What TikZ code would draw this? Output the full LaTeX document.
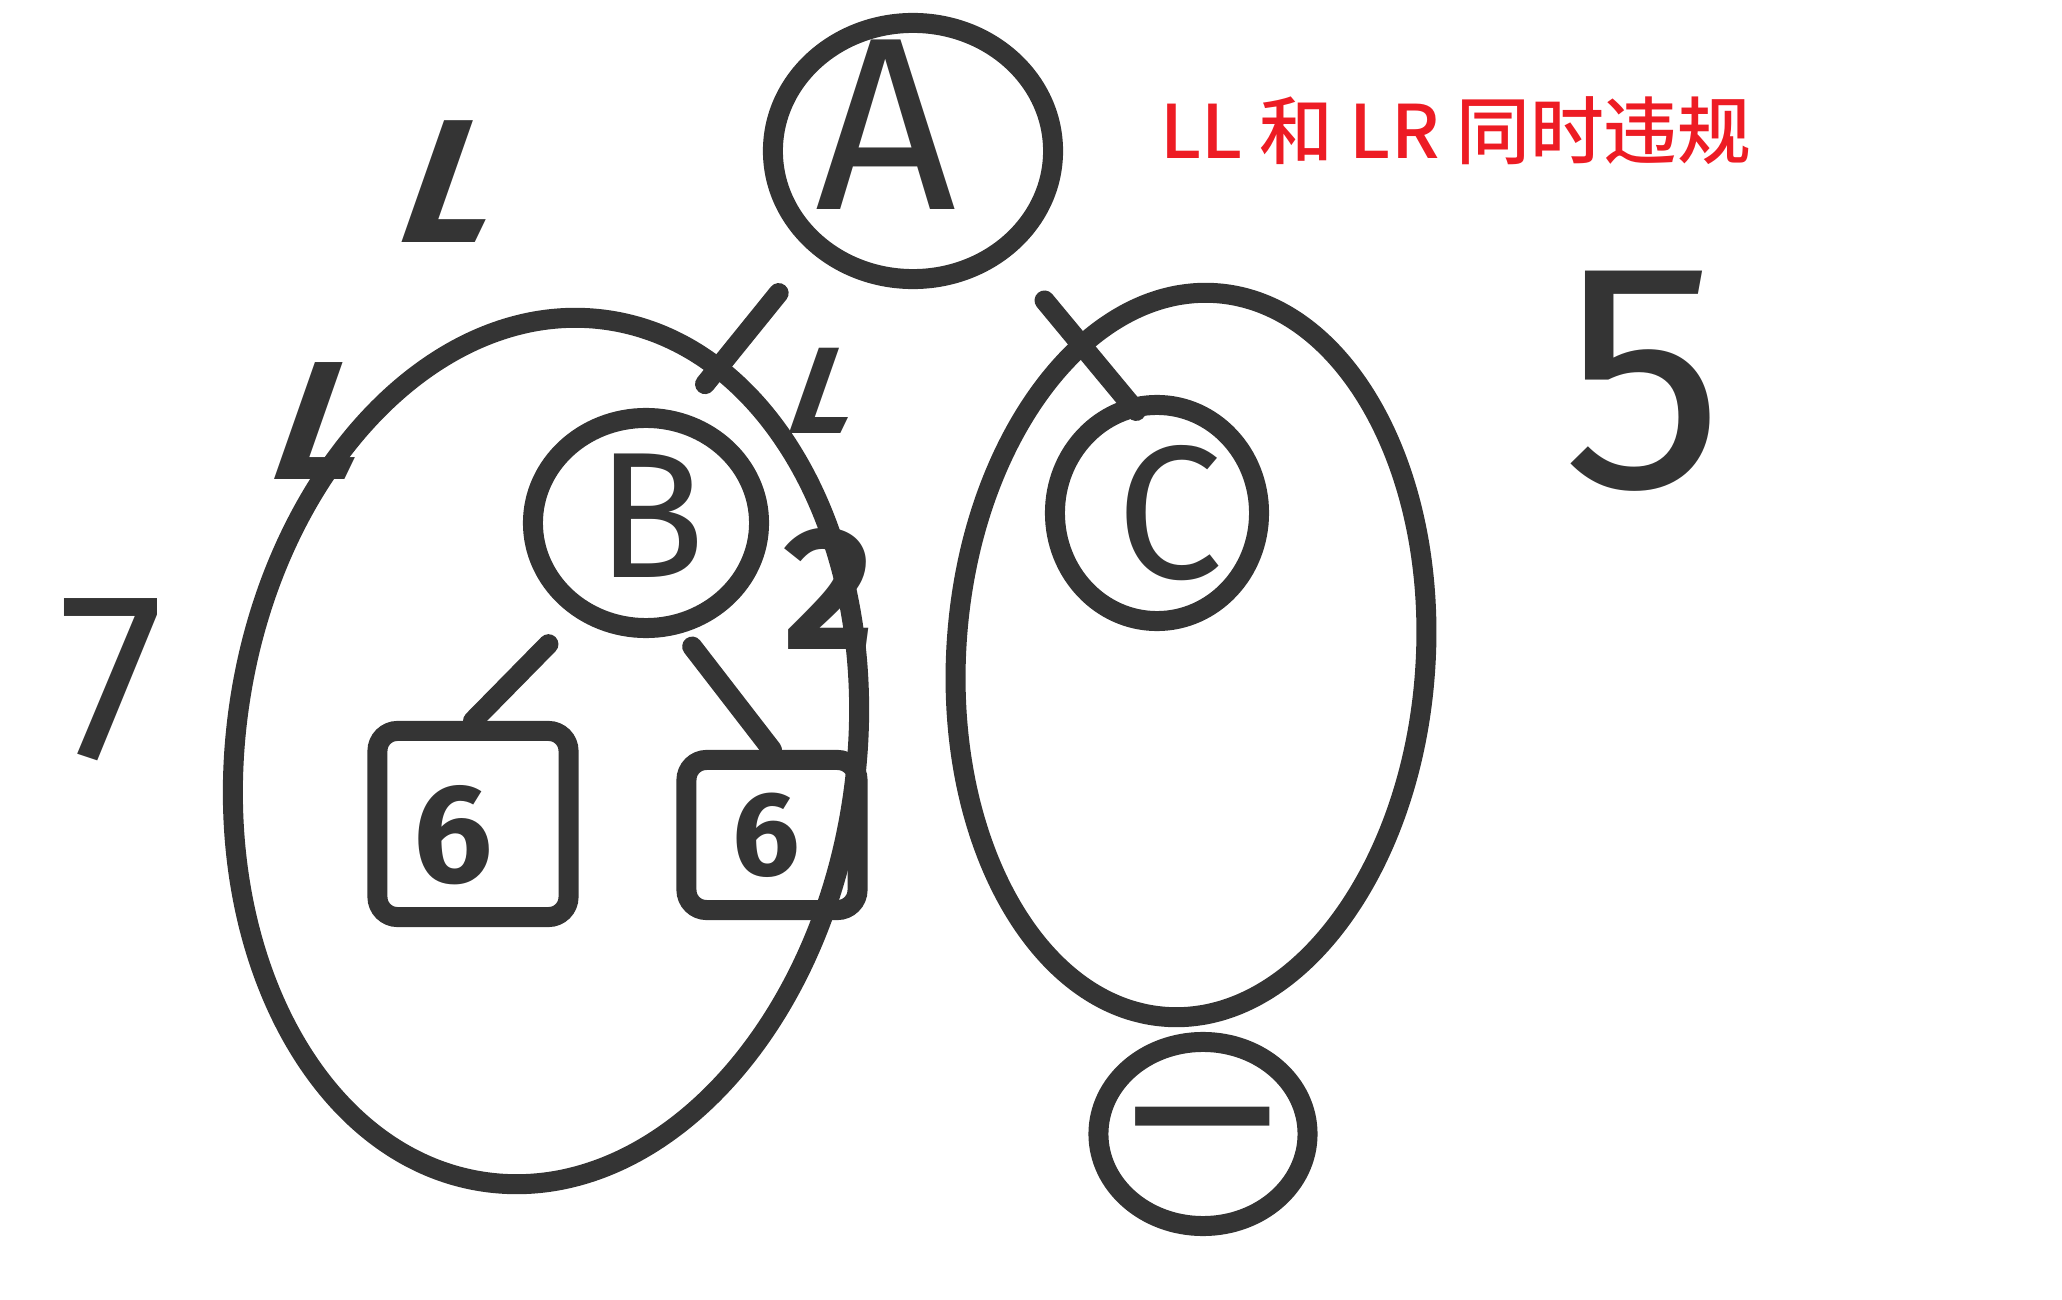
\documentclass[tikz,border=0pt]{standalone}
\usepackage{fontspec}
\usetikzlibrary{shapes.geometric}
\setmainfont{Fira Sans}
\newfontfamily\cjkfont{Noto Sans CJK SC Medium}
\definecolor{pen}{RGB}{52,52,52}
\definecolor{warn}{RGB}{237,28,36}

\begin{document}
\begin{tikzpicture}[x=0.01cm,y=-0.01cm,
    ring/.style={draw=pen,line width=0.2cm,ellipse,inner sep=0pt},
    leafbox/.style={draw=pen,line width=0.2cm,rectangle,rounded corners=0.2cm,inner sep=0pt},
    branch/.style={draw=pen,line width=0.2cm,line cap=round},
    hand/.style={text=pen,inner sep=0pt,font=\fontsize{#1}{#1}\selectfont},
    boldhand/.style={text=pen,inner sep=0pt,font=\fontsize{#1}{#1}\selectfont\bfseries},
    slanthand/.style={boldhand=#1,xslant=0.35}]
  \useasboundingbox (0,0) rectangle (2062,1300);

  \node[ring,minimum width=2.8cm,minimum height=2.56cm] (A) at (913,151) {};
  \node[hand=70] (tA) at (886,125) {A};

  \node[ring,minimum width=6.2cm,minimum height=8.7cm,rotate=-8] (lefttree) at (546,751) {};
  \node[ring,minimum width=4.69cm,minimum height=7.25cm,rotate=-4] (righttree) at (1191,655) {};

  \node[ring,minimum width=2.26cm,minimum height=2.1cm] (B) at (646,523) {};
  \node[hand=51] (tB) at (651,516) {B};

  \node[ring,minimum width=2.04cm,minimum height=2.16cm] (C) at (1157,513) {};
  \node[hand=54] (tC) at (1170,513) {C};

  \node[leafbox,minimum width=1.91cm,minimum height=1.86cm] (g1) at (473,824) {};
  \node[boldhand=40] (t6a) at (453,835) {6};
  \node[leafbox,minimum width=1.71cm,minimum height=1.5cm] (g2) at (772,835) {};
  \node[boldhand=34] (t6b) at (766,835) {6};

  \node[ring,minimum width=2.09cm,minimum height=1.84cm] (m) at (1203,1134) {};
  \node[hand=70,xscale=1.45] (tm) at (1203,1153) {−};

  \draw[branch,shorten <=0.52cm,shorten >=0.37cm] (A.225) -- (B.72);
  \draw[branch,shorten <=0.56cm,shorten >=-0.15cm] (A.-48) -- (C.105);
  \draw[branch,shorten <=0.38cm] (B.233) -- (g1.north);
  \draw[branch,shorten <=0.17cm] (B.-72) -- (g2.north);

  \node[slanthand=50] (h1) at (457,182) {L};
  \node[slanthand=48] (h2) at (327,421) {L};
  \node[slanthand=35] (h3) at (828,391) {L};
  \node[boldhand=50] (h4) at (829,589) {2};
  \node[hand=68] (h5) at (112,680) {7};
  \node[hand=92] (h6) at (1644,381) {5};

  \node[text=warn,inner sep=0pt,font=\cjkfont\fontsize{21}{21}\selectfont] (note) at (1456,131) {LL 和 LR 同时违规};
\end{tikzpicture}
\end{document}
